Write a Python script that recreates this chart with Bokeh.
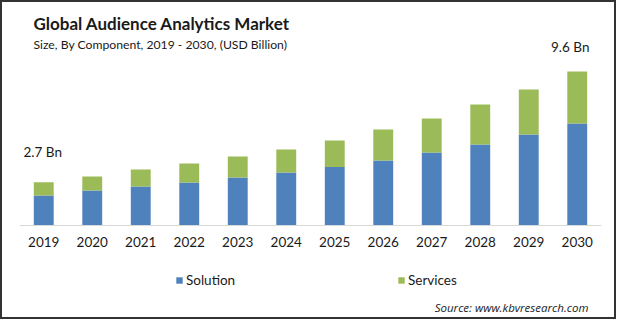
from bokeh.plotting import figure
from bokeh.models import ColumnDataSource, Label, Legend, LegendItem, FactorRange, Range1d
from bokeh.core.properties import value
from bokeh.embed import file_html
from bokeh.resources import INLINE

years = ["2019", "2020", "2021", "2022", "2023", "2024",
         "2025", "2026", "2027", "2028", "2029", "2030"]
solution = [1.87, 2.18, 2.43, 2.68, 2.99, 3.30, 3.64, 4.05, 4.55, 5.05, 5.67, 6.36]
services = [0.83, 0.87, 1.06, 1.19, 1.31, 1.44, 1.66, 1.93, 2.12, 2.49, 2.81, 3.24]
label_years = ["2019", "2030"]
label_texts = ["2.7 Bn", "9.6 Bn"]
label_values = [2.7, 9.6]

FONT = "Lato"
BLUE = "#4f81bd"
GREEN = "#9bbb59"

W, H = 616, 319
FL, FR = 17, 17
BASE = 223          # inner pixel row of the baseline
PX_PER_UNIT = 16.04
FRAME_BOTTOM = H

p = figure(width=W, height=H, x_range=FactorRange(*years, range_padding=0),
           y_range=Range1d(-(H - BASE) / PX_PER_UNIT, BASE / PX_PER_UNIT),
           output_backend="svg", toolbar_location=None,
           min_border_left=FL, min_border_right=FR, min_border_top=0,
           min_border_bottom=0)
p.styles = {"border": "2px solid #333333"}
p.outline_line_color = None
p.background_fill_color = "white"
p.border_fill_color = "white"
p.grid.visible = False
p.yaxis.visible = False

src = ColumnDataSource(dict(year=years, Solution=solution, Services=services))
rs = p.vbar_stack(["Solution", "Services"], x="year", width=0.41, source=src,
                  color=[BLUE, GREEN], line_color=None)

xa = p.xaxis[0]
xa.fixed_location = 0
xa.axis_line_color = "#d9d9d9"
xa.axis_line_width = 1
xa.major_tick_line_color = None
xa.minor_tick_line_color = None
xa.major_tick_out = 0
xa.major_tick_in = 0
xa.major_label_standoff = 11
xa.major_label_text_font = FONT
xa.major_label_text_font_size = "13.5px"
xa.major_label_text_color = "#1a1a1a"

for i, (xo, yo) in enumerate([(-1, -30), (-7, -25)]):
    p.text(x=[label_years[i]], y=[label_values[i]], text=[label_texts[i]],
           x_offset=xo, y_offset=yo,
           text_font=value(FONT), text_font_size="13.5px", text_color="#1a1a1a",
           text_align="center", text_baseline="middle")


def lab(text, X, Y, size, style="normal", align="left", color="#1a1a1a", font=FONT):
    # X, Y are image pixel positions (with 2px border)
    p.add_layout(Label(x=X - 2 - FL, y=FRAME_BOTTOM - (Y - 2), x_units="screen",
                       y_units="screen", text=text, text_font=font,
                       text_font_size=size, text_font_style=style,
                       text_align=align, text_baseline="middle",
                       text_color=color))


lab("Global Audience Analytics Market", 33, 23, "17px", style="bold")
lab("Size, By Component,  2019 - 2030, (USD Billion)", 33, 44, "12.2px")
lab("Source: www.kbvresearch.com", 588, 307, "11.5px", style="italic", align="right",
    font="Open Sans")

legend = Legend(items=[LegendItem(label="Solution", renderers=[rs[0]]),
                       LegendItem(label="Services", renderers=[rs[1]])],
                orientation="horizontal",
                location=(175 - 2 - FL, FRAME_BOTTOM - (288 - 2)),
                padding=0, margin=0, spacing=11, glyph_width=8, glyph_height=8,
                label_standoff=3, label_width=200, label_height=14,
                label_text_font=FONT, label_text_font_size="13.5px",
                label_text_color="#1a1a1a", border_line_color=None,
                background_fill_alpha=0)
p.add_layout(legend, "center")

open("out.html", "w").write(file_html(p, INLINE))
